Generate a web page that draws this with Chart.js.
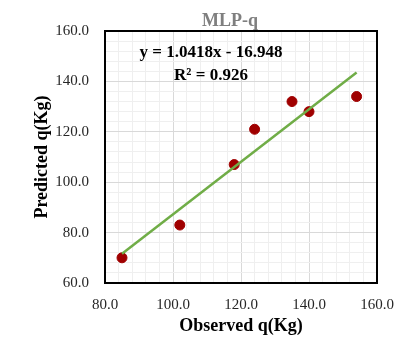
<!DOCTYPE html>
<html lang="en">
<head>
  <meta charset="UTF-8">
  <title>MLP-q</title>
  <script src="https://cdn.jsdelivr.net/npm/chart.js"></script>
  <style>
    body {
      margin: 0;
      background-color: #ffffff;
    }

    .wrap {
      width: 418px;
      height: 337px;
    }
  </style>
</head>
<body>
  <div class="wrap"><canvas id="chart"></canvas></div>

  <script>
    // observed vs predicted values
    const observed = [85, 102, 118, 124, 135, 140, 154];
    const predicted = [70, 83, 107, 121, 132, 128, 134];

    // fitted line shown on the chart
    const slope = 1.0418;
    const intercept = -16.948;
    const equationText = "y = 1.0418x - 16.948";
    const r2Text = "R² = 0.926";

    const xMin = 80, xMax = 160;
    const yMin = 60, yMax = 160;

    const fitX = [Math.min(...observed), Math.max(...observed)];
    const fitLine = fitX.map(x => ({ x: x, y: slope * x + intercept }));
    const points = observed.map((x, i) => ({ x: x, y: predicted[i] }));

    const serif = "'Liberation Serif', 'Times New Roman', serif";

    const gridColor = ctx => (ctx.tick && ctx.tick.value % 20 === 0) ? '#d9d9d9' : '#efefef';
    const majorLabel = v => (v % 20 === 0 ? v.toFixed(1) : '');

    const overlay = {
      id: 'overlay',
      afterDatasetsDraw(chart) {
        const { ctx, chartArea } = chart;
        ctx.save();
        ctx.strokeStyle = '#000';
        ctx.lineWidth = 2;
        ctx.strokeRect(chartArea.left, chartArea.top,
          chartArea.right - chartArea.left, chartArea.bottom - chartArea.top);

        ctx.textAlign = 'center';
        ctx.textBaseline = 'middle';
        ctx.fillStyle = '#7f7f7f';
        ctx.font = `bold 18px ${serif}`;
        ctx.fillText('MLP-q', 230, 21);

        ctx.fillStyle = '#000';
        ctx.font = `bold 17px ${serif}`;
        ctx.fillText(equationText, 211, 53);
        ctx.fillText(r2Text, 211, 76);
        ctx.restore();
      }
    };

    new Chart(document.getElementById('chart'), {
      type: 'scatter',
      data: {
        datasets: [
          {
            label: 'Fit',
            type: 'line',
            data: fitLine,
            borderColor: '#70ad47',
            borderWidth: 2.5,
            pointRadius: 0,
            fill: false,
            order: 1
          },
          {
            label: 'MLP-q',
            data: points,
            backgroundColor: '#a00000',
            borderColor: '#a00000',
            pointRadius: 5,
            order: 2
          }
        ]
      },
      options: {
        responsive: true,
        maintainAspectRatio: false,
        animation: false,
        layout: {
          padding: { left: 28, right: 41, top: 31, bottom: 0 }
        },
        plugins: {
          legend: { display: false },
          tooltip: { enabled: false }
        },
        scales: {
          x: {
            type: 'linear',
            min: xMin,
            max: xMax,
            afterFit: s => { s.height = 54; },
            grid: { color: gridColor, drawTicks: false, lineWidth: 1 },
            border: { display: false },
            ticks: {
              stepSize: 4,
              autoSkip: false,
              maxRotation: 0,
              padding: 13,
              color: '#262626',
              font: { family: serif, size: 15 },
              callback: majorLabel
            },
            title: {
              display: true,
              text: 'Observed q(Kg)',
              color: '#000',
              padding: { top: 0, bottom: 0 },
              font: { family: serif, size: 18, weight: 'bold' }
            }
          },
          y: {
            type: 'linear',
            min: yMin,
            max: yMax,
            afterFit: s => { s.width = 77; },
            grid: { color: gridColor, drawTicks: false, lineWidth: 1 },
            border: { display: false },
            ticks: {
              stepSize: 4,
              autoSkip: false,
              padding: 16,
              color: '#262626',
              font: { family: serif, size: 15 },
              callback: majorLabel
            },
            title: {
              display: true,
              text: 'Predicted q(Kg)',
              color: '#000',
              padding: { top: 4, bottom: 0 },
              font: { family: serif, size: 18, weight: 'bold' }
            }
          }
        }
      },
      plugins: [overlay]
    });
  </script>
</body>
</html>
